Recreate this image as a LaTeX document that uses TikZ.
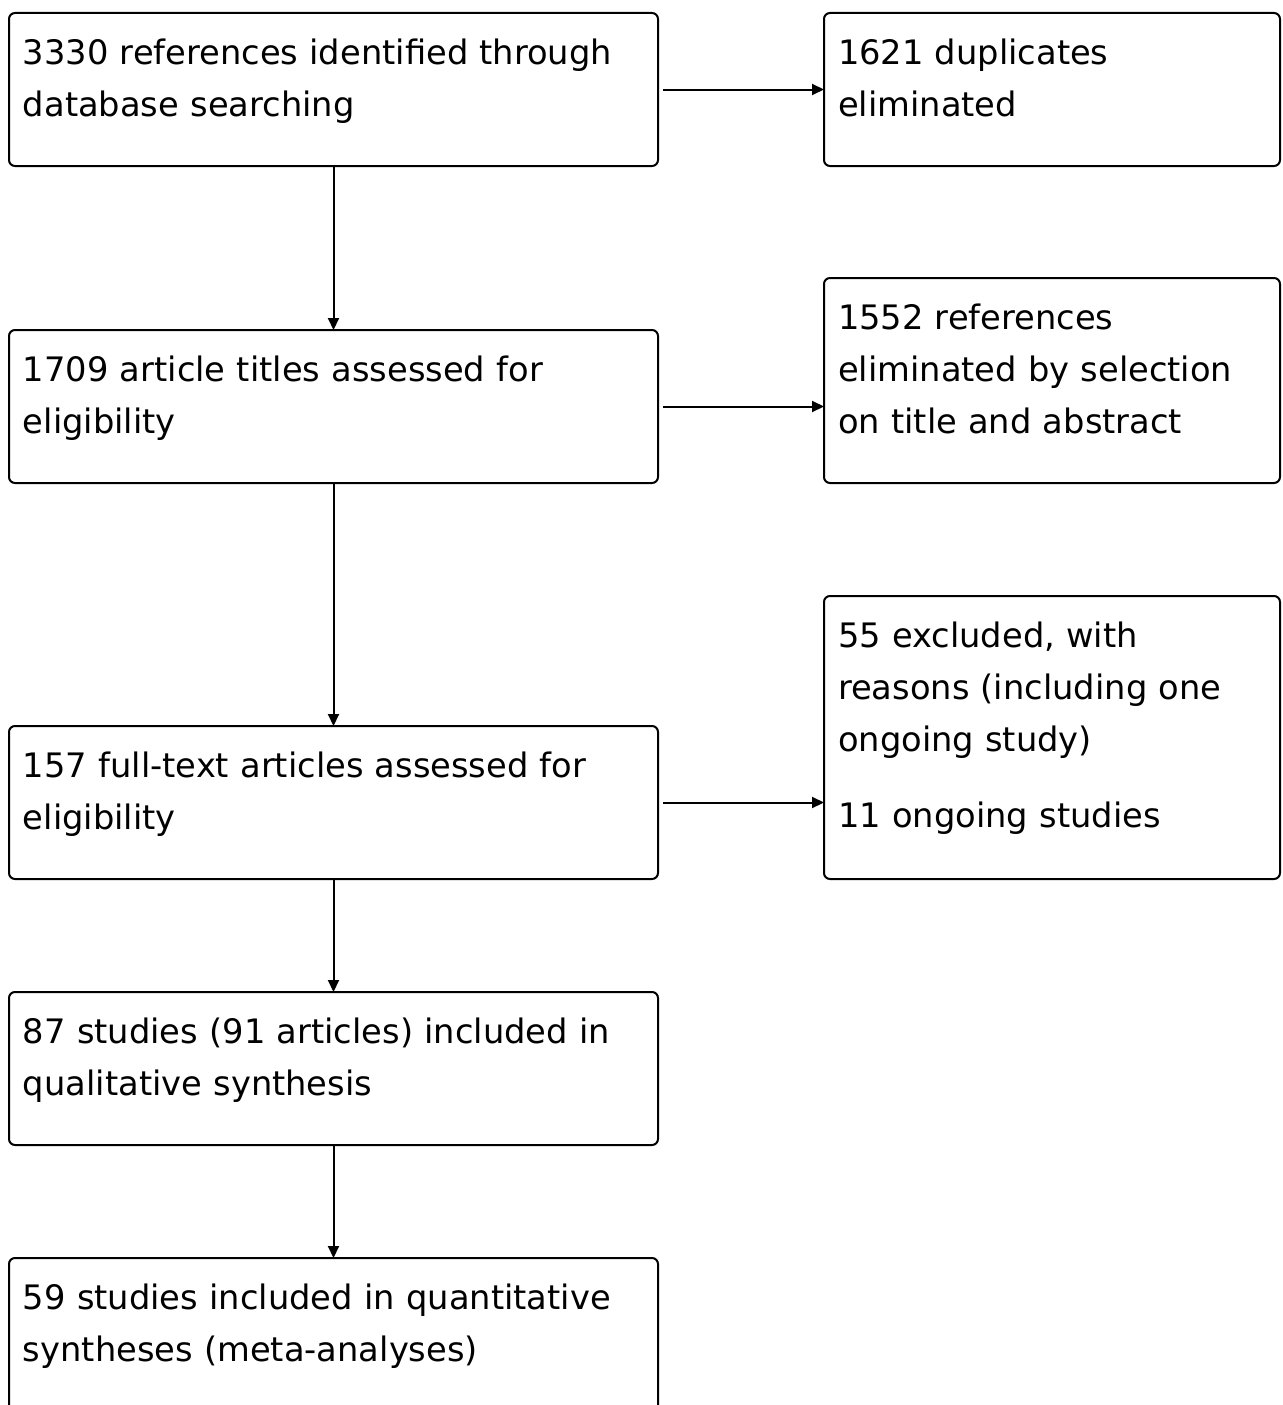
\documentclass[tikz,border=0pt]{standalone}
\usepackage{fontspec}
\setmainfont{DejaVu Sans}
\usepackage{tikz}
\usetikzlibrary{arrows.meta, positioning}

\tikzset{
  stage/.style={draw, line width=2pt, rounded corners=6pt, anchor=north west,
    text width=621pt, inner xsep=14pt, inner ysep=0pt, outer sep=0pt, align=left,
    text height=51pt, text depth=102pt,
    font=\fontsize{33.7}{52}\selectfont},
  side/.style={stage, text width=428pt},
  flow/.style={-{Triangle[length=12pt,width=11pt]}, line width=2pt}
}

\begin{document}
\begin{tikzpicture}[x=1pt, y=-1pt]

\path[use as bounding box, clip] (0,0) rectangle (1282,1405) ;

\node[stage] (search) at (9,13) {3330 references identified through\\database searching} ;
\node[stage, below=164pt of search] (titles) {1709 article titles assessed for\\eligibility} ;
\node[stage, below=243pt of titles] (fulltext) {157 full-text articles assessed for\\eligibility} ;
\node[stage, below=113pt of fulltext] (qual) {87 studies (91 articles) included in\\qualitative synthesis} ;
\node[stage, below=113pt of qual, text depth=200pt] (quant) {59 studies included in quantitative\\syntheses (meta-analyses)} ;

\node[side, right=166pt of search.south east, anchor=south west] (dup) {1621 duplicates\\eliminated} ;
\node[side, right=166pt of titles.south east, anchor=south west, text depth=154pt] (selexcl) {1552 references\\eliminated by selection\\on title and abstract} ;
\node[side, right=166pt of fulltext.south east, anchor=south west, text depth=232pt] (excl) {55 excluded, with\\reasons (including one\\ongoing study)\\[24pt]11 ongoing studies} ;

\draw[flow] (search) -- (titles) ;
\draw[flow] (titles) -- (fulltext) ;
\draw[flow] (fulltext) -- (qual) ;
\draw[flow] (qual) -- (quant) ;

\draw[flow, shorten <=5pt] (search) -- (dup) ;
\draw[flow, shorten <=5pt] (titles) -- (titles -| selexcl.west) ;
\draw[flow, shorten <=5pt] (fulltext) -- (fulltext -| excl.west) ;

\end{tikzpicture}
\end{document}
